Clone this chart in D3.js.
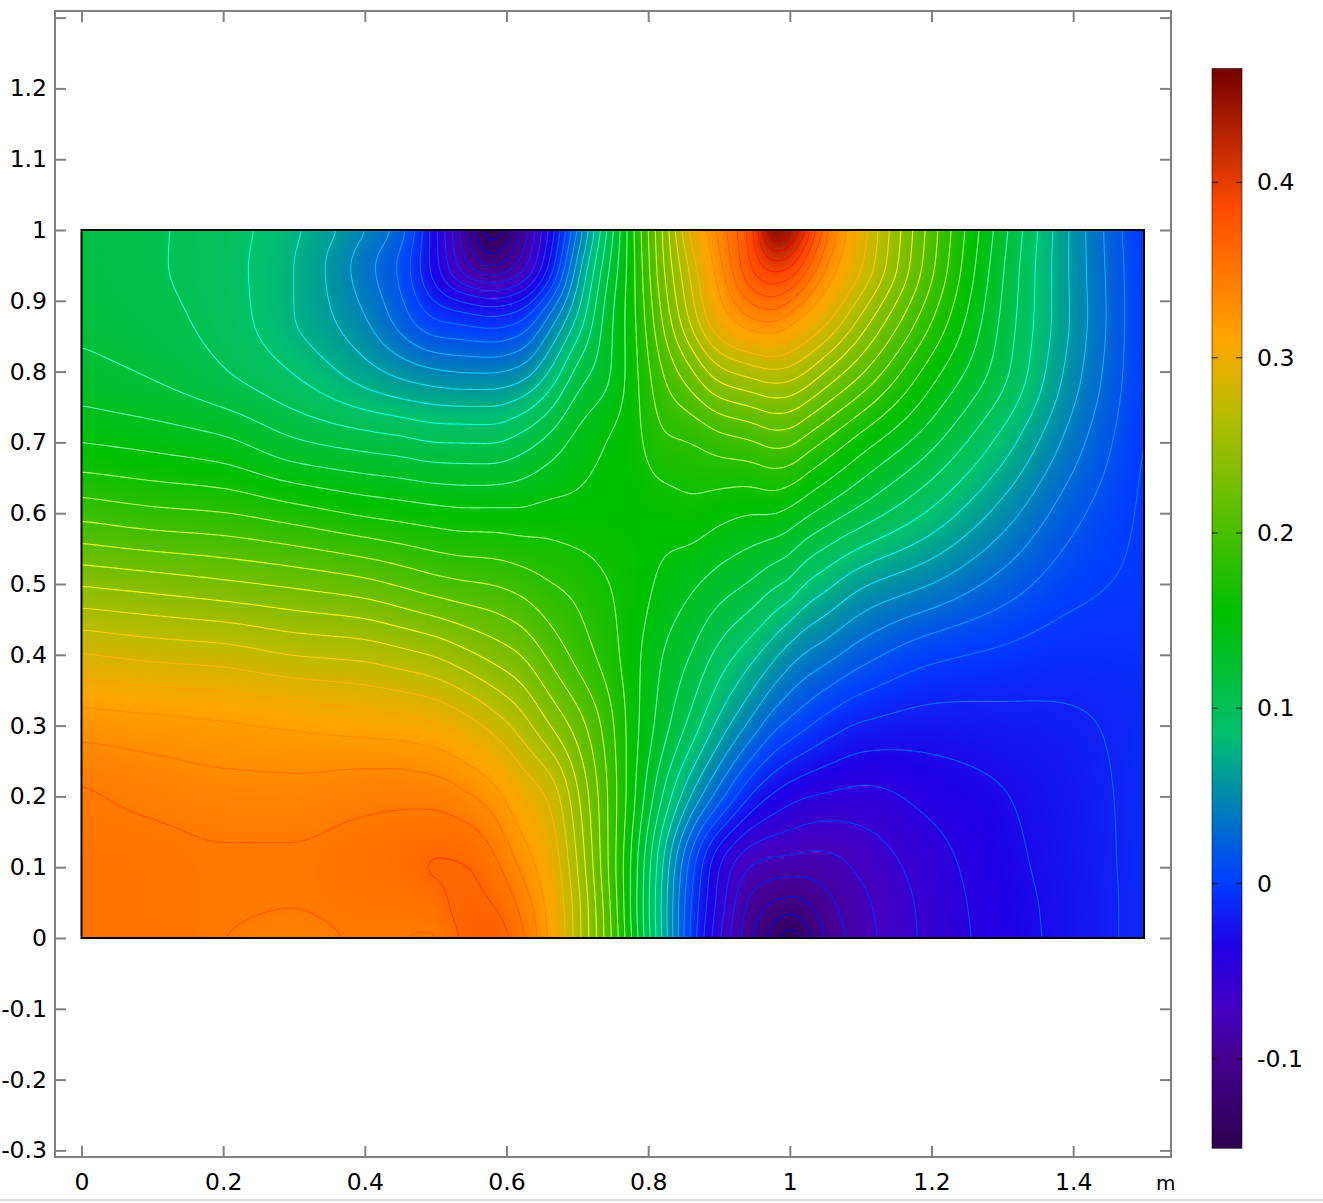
<!DOCTYPE html>
<html><head><meta charset="utf-8">
<script src="https://cdn.jsdelivr.net/npm/d3@7/dist/d3.min.js"></script>
<style>html,body{margin:0;padding:0;background:#fff;overflow:hidden}svg{display:block}
text{font-family:"DejaVu Sans",sans-serif;fill:#000}</style></head><body>
<script>
const xTickLabels=[0,0.2,0.4,0.6,0.8,1,1.2,1.4];
const yTickLabels=[-0.3,-0.2,-0.1,0,0.1,0.2,0.3,0.4,0.5,0.6,0.7,0.8,0.9,1,1.1,1.2];
const yTickUnlabelled=[1.3];
const barTicks=[-0.1,0,0.1,0.2,0.3,0.4];
const unitLabel="m";
const valueMin=-0.151, valueMax=0.465;
const contourLevels=d3.range(1,40).map(i=>+(-0.15+0.015*i).toFixed(3));
const fillStops=[-0.151,-0.1,-0.07,-0.036,0.003,0.085,0.155,0.27,0.31,0.385,0.465];
const fillColors=["#2d0050","#45008f","#4400c4","#2000e6","#0040ff","#00c070","#00c000","#bcbc00","#ffa500","#ff4b00","#750000"];
const lineStops=[-0.15,-0.1,-0.05,0,0.03,0.06,0.09,0.12,0.15,0.18,0.21,0.235,0.27,0.30,0.33,0.36,0.39,0.42,0.46];
const lineColors=["#0000b0","#0018f0","#0048ff","#0078ff","#00b0ff","#00e0ff","#00ffee","#40ffc0","#90ffa0","#c0ff60","#f0ff10","#ffff00","#ffc800","#ffa000","#ff7000","#ff4000","#ff2000","#f00000","#900000"];
const gridY=[0,0.04,0.1,0.2,0.3,0.4,0.5,0.6,0.7,0.8,0.88,0.95,1];
const gridX=[0,0.1,0.2,0.3,0.4,0.45,0.5,0.54,0.58,0.62,0.66,0.7,0.74,0.78,0.82,0.86,0.9,0.95,0.975,1,1.02,1.05,1.1,1.2,1.3,1.4,1.5];
const fieldColumns=[
[.352,.352,.351,.347,.3233,.286,.2385,.19,.15,.125,.116,.114,.113],
[.351,.35,.35,.341,.32,.2807,.2335,.184,.1454,.118,.11,.107,.107],
[.345,.347,.347,.3364,.3168,.2774,.228,.1805,.1386,.106,.098,.096,.097],
[.338,.345,.347,.3359,.3128,.2695,.222,.172,.1225,.089,.075,.075,.078],
[.347,.349,.353,.34,.3087,.2655,.2145,.1625,.1136,.066,.045,.036,.046],
[.345,.349,.356,.341,.3064,.26,.208,.159,.11,.055,.022,.012,.023],
[.342,.354,.361,.3395,.302,.2535,.201,.1555,.105,.047,-.004,-.04,-.042],
[.364,.365,.361,.3333,.293,.2445,.197,.1535,.1045,.044,-.011,-.085,-.10],
[.37,.362,.351,.3225,.28,.235,.1945,.1535,.104,.0435,-.017,-.108,-.15],
[.35,.343,.328,.30,.2635,.225,.189,.153,.112,.05,-.008,-.085,-.105],
[.314,.31,.302,.283,.241,.207,.181,.1555,.125,.075,.03,-.03,-.045],
[.262,.261,.255,.2425,.218,.19,.175,.155,.14,.11,.075,.05,.03],
[.207,.205,.2,.198,.19,.174,.166,.156,.15,.13,.125,.113,.102],
[.145,.142,.143,.152,.155,.155,.158,.156,.159,.16,.162,.163,.165],
[.074,.072,.076,.105,.127,.135,.1465,.157,.177,.195,.212,.222,.225],
[-.003,0,.008,.06,.10,.12,.138,.16,.18,.222,.26,.275,.29],
[-.058,-.052,-.045,.022,.07,.10,.128,.155,.188,.25,.305,.325,.335],
[-.108,-.1,-.078,-.02,.037,.078,.117,.1505,.194,.263,.335,.38,.39],
[-.126,-.11,-.082,-.032,.02,.065,.108,.151,.2,.268,.34,.40,.458],
[-.15,-.117,-.083,-.04,.01,.052,.102,.146,.199,.265,.328,.395,.445],
[-.13,-.112,-.084,-.044,.003,.044,.09,.139,.19,.257,.315,.37,.41],
[-.104,-.097,-.082,-.047,-.0065,.036,.08,.1295,.178,.24,.295,.333,.352],
[-.0825,-.08,-.072,-.0495,-.0169,.0217,.063,.115,.158,.213,.255,.2875,.295],
[-.0555,-.055,-.052,-.04,-.022,.004,.045,.087,.124,.157,.183,.199,.2025],
[-.038,-.037,-.035,-.031,-.02,-.003,.024,.0535,.084,.1105,.1175,.122,.126],
[-.024,-.024,-.023,-.021,-.017,-.008,.005,.0195,.037,.052,.057,.056,.056],
[-.01,-.01,-.01,-.0105,-.0105,-.007,-.004,-.003,-.002,-.0005,-.0005,-.001,-.003]
];

const W=1323,H=1203;
const x=d3.scaleLinear([0,1.5],[81.5,1144]);
const y=d3.scaleLinear([0,1],[938,230]);
const barY=d3.scaleLinear([0,0.4],[883.6,182.4]);
const fillColor=d3.scaleLinear(fillStops,fillColors).interpolate(d3.interpolateRgb).clamp(true);
const lineColor=d3.scaleLinear(lineStops,lineColors).interpolate(d3.interpolateRgb).clamp(true);

// monotone cubic resampling of the read-off table onto a fine raster
function slopes(xs,ys){
  const n=xs.length,h=[],d=[],m=new Array(n);
  for(let i=0;i<n-1;i++){h[i]=xs[i+1]-xs[i];d[i]=(ys[i+1]-ys[i])/h[i];}
  m[0]=d[0];m[n-1]=d[n-2];
  for(let i=1;i<n-1;i++){
    if(d[i-1]*d[i]<=0)m[i]=0;
    else{const w1=2*h[i]+h[i-1],w2=h[i]+2*h[i-1];m[i]=(w1+w2)/(w1/d[i-1]+w2/d[i]);}
  }
  return m;
}
function resample(xs,ys,targets){
  const m=slopes(xs,ys);let k=0;
  return targets.map(t=>{
    while(k<xs.length-2&&t>xs[k+1])k++;
    const h=xs[k+1]-xs[k],s=(t-xs[k])/h,s2=s*s,s3=s2*s;
    return (2*s3-3*s2+1)*ys[k]+(s3-2*s2+s)*h*m[k]+(-2*s3+3*s2)*ys[k+1]+(s3-s2)*h*m[k+1];
  });
}
const nx=532,ny=355;
const fineX=d3.range(nx).map(i=>i/(nx-1)*1.5);
const fineY=d3.range(ny).map(j=>j/(ny-1));
const rowsFine=gridY.map((_,r)=>resample(gridX,fieldColumns.map(c=>c[r]),fineX));
const field=new Float64Array(nx*ny);
for(let i=0;i<nx;i++){
  const col=resample(gridY,rowsFine.map(r=>r[i]),fineY);
  for(let j=0;j<ny;j++)field[(ny-1-j)*nx+i]=col[j];
}
if(d3.blur2)d3.blur2({data:field,width:nx,height:ny},3);
// fill raster
const cv=document.createElement("canvas");cv.width=nx;cv.height=ny;
const ctx=cv.getContext("2d"),img=ctx.createImageData(nx,ny);
for(let p=0;p<nx*ny;p++){
  const c=d3.rgb(fillColor(field[p]));
  img.data[4*p]=c.r;img.data[4*p+1]=c.g;img.data[4*p+2]=c.b;img.data[4*p+3]=255;
}
ctx.putImageData(img,0,0);

const svg=d3.select("body").append("svg").attr("width",W).attr("height",H);
svg.append("rect").attr("x",0).attr("y",1199).attr("width",W).attr("height",2).attr("fill","#dcdcdc");
const defs=svg.append("defs");
defs.append("clipPath").attr("id","dom").append("rect")
  .attr("x",x(0)).attr("y",y(1)).attr("width",x(1.5)-x(0)).attr("height",y(0)-y(1));
svg.append("image").attr("href",cv.toDataURL()).attr("x",x(0)).attr("y",y(1))
  .attr("width",x(1.5)-x(0)).attr("height",y(0)-y(1)).attr("preserveAspectRatio","none");

const gx=d3.scaleLinear([0.5,nx-0.5],[x(0),x(1.5)]);
const gy=d3.scaleLinear([0.5,ny-0.5],[y(1),y(0)]);
const path=d3.geoPath(d3.geoTransform({point(a,b){this.stream.point(gx(a),gy(b));}}));
const contours=d3.contours().size([nx,ny]).smooth(true).thresholds(contourLevels)(field);
svg.append("g").attr("clip-path","url(#dom)").selectAll("path").data(contours).join("path")
  .attr("d",path).attr("fill","none").attr("stroke-width",1.1)
  .attr("stroke",d=>lineColor(d.value));
svg.append("rect").attr("x",x(0)).attr("y",y(1)).attr("width",x(1.5)-x(0)).attr("height",y(0)-y(1))
  .attr("fill","none").attr("stroke","#000").attr("stroke-width",2);

// frame and axes
const L=55,R=1171,T=11,B=1157,TS=11;
function styleAxis(g){g.select(".domain").remove();
  g.selectAll(".tick line").attr("stroke","#808080").attr("stroke-width",2);
  g.selectAll("text").style("font-size","23.5px").style("font-family",'"DejaVu Sans",sans-serif').attr("fill","#000");}
const fmt=d=>String(+d.toFixed(1));
svg.append("g").attr("transform",`translate(${L},0)`).call(d3.axisLeft(y).tickValues(yTickLabels.concat(yTickUnlabelled))
  .tickSizeInner(-TS).tickSizeOuter(0).tickPadding(8).tickFormat(d=>d>1.25?"":fmt(d))).call(styleAxis);
svg.append("g").attr("transform",`translate(${R},0)`).call(d3.axisRight(y).tickValues(yTickLabels.concat(yTickUnlabelled))
  .tickSizeInner(-TS).tickSizeOuter(0).tickFormat("")).call(styleAxis);
svg.append("g").attr("transform",`translate(0,${B})`).call(d3.axisBottom(x).tickValues(xTickLabels)
  .tickSizeInner(-TS).tickSizeOuter(0).tickPadding(16).tickFormat(fmt)).call(styleAxis);
svg.append("g").attr("transform",`translate(0,${T})`).call(d3.axisTop(x).tickValues(xTickLabels)
  .tickSizeInner(-TS).tickSizeOuter(0).tickFormat("")).call(styleAxis);
svg.append("rect").attr("x",L).attr("y",T).attr("width",R-L).attr("height",B-T)
  .attr("fill","none").attr("stroke","#808080").attr("stroke-width",2);
svg.append("text").attr("x",1156).attr("y",1190).style("font-size","20px").text(unitLabel);

// colour bar
const grad=defs.append("linearGradient").attr("id","bar").attr("x1",0).attr("x2",0).attr("y1",1).attr("y2",0);
grad.selectAll("stop").data(fillStops).join("stop")
  .attr("offset",d=>(d-valueMin)/(valueMax-valueMin)).attr("stop-color",d=>fillColor(d));
const barX=1212,barW=30;
svg.append("rect").attr("x",barX).attr("y",barY(valueMax)).attr("width",barW)
  .attr("height",barY(valueMin)-barY(valueMax)).attr("fill","url(#bar)");
svg.append("rect").attr("x",barX).attr("y",barY(valueMax)).attr("width",barW)
  .attr("height",barY(valueMin)-barY(valueMax)).attr("fill","none").attr("stroke","#000").attr("stroke-opacity",0.55).attr("stroke-width",1);
const bt=svg.append("g").selectAll("g").data(barTicks).join("g").attr("transform",d=>`translate(0,${barY(d)})`);
bt.append("line").attr("x1",barX).attr("x2",barX+6).attr("stroke","#000").attr("stroke-opacity",.55).attr("stroke-width",1.5);
bt.append("line").attr("x1",barX+barW-6).attr("x2",barX+barW).attr("stroke","#000").attr("stroke-opacity",.55).attr("stroke-width",1.5);
bt.append("text").attr("x",barX+45).attr("dy","0.34em").style("font-size","23.5px").text(fmt);
</script></body></html>
